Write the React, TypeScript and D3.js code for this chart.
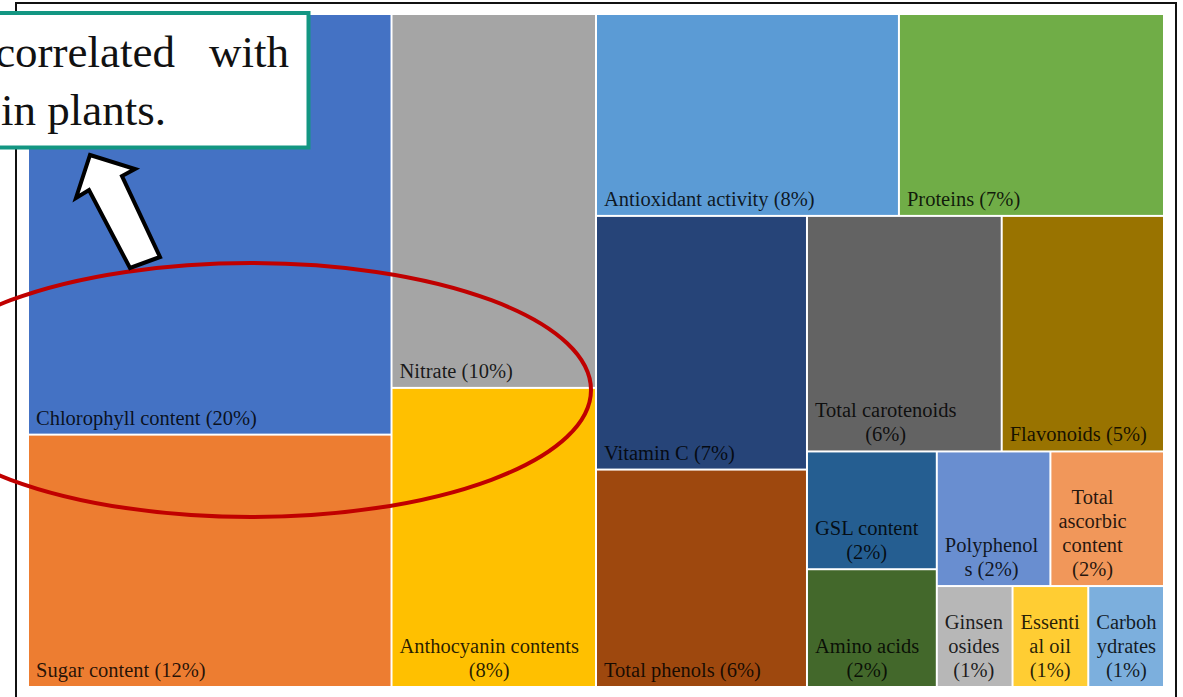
import React, { useRef, useEffect } from "react";
import * as d3 from "d3";

// treemap data (share of studies, %)
const categories = [
  "Chlorophyll content", "Sugar content", "Nitrate", "Anthocyanin contents",
  "Antioxidant activity", "Proteins", "Vitamin C", "Total phenols",
  "Total carotenoids", "Flavonoids", "GSL content", "Amino acids",
  "Polyphenols", "Total ascorbic content", "Ginsenosides", "Essential oil", "Carbohydrates",
];
const shares = [20, 12, 10, 8, 8, 7, 7, 6, 6, 5, 2, 2, 2, 2, 1, 1, 1];
// labels as wrapped in the original figure
const labels = [
  "Chlorophyll content (20%)", "Sugar content (12%)", "Nitrate (10%)", "Anthocyanin contents\n(8%)",
  "Antioxidant activity (8%)", "Proteins (7%)", "Vitamin C (7%)", "Total phenols (6%)",
  "Total carotenoids\n(6%)", "Flavonoids (5%)", "GSL content\n(2%)", "Amino acids\n(2%)",
  "Polyphenol\ns (2%)", "Total\nascorbic\ncontent\n(2%)", "Ginsen\nosides\n(1%)", "Essenti\nal oil\n(1%)", "Carboh\nydrates\n(1%)",
];
const colors = [
  "#4472C4", "#ED7D31", "#A5A5A5", "#FFC000", "#5B9BD5", "#70AD47", "#264478", "#9E480E",
  "#636363", "#997300", "#255E91", "#43682B", "#698ED0", "#F1975A", "#B7B7B7", "#FFCD33", "#7CAFDD",
];

// squarify like d3's but allowing ratio < 1 (closer to Excel's row grouping)
function squarifyTight(ratio: number) {
  return (parent: any, x0: number, y0: number, x1: number, y1: number) => {
    const nodes = parent.children;
    const n = nodes.length;
    let i0 = 0, i1 = 0, value = parent.value;
    while (i0 < n) {
      const dx = x1 - x0, dy = y1 - y0;
      let sumValue;
      do sumValue = nodes[i1++].value; while (!sumValue && i1 < n);
      let minValue = sumValue, maxValue = sumValue;
      const alpha = Math.max(dy / dx, dx / dy) / (value * ratio);
      let beta = sumValue * sumValue * alpha;
      let minRatio = Math.max(maxValue / beta, beta / minValue);
      for (; i1 < n; ++i1) {
        const nv = nodes[i1].value;
        sumValue += nv;
        if (nv < minValue) minValue = nv;
        if (nv > maxValue) maxValue = nv;
        beta = sumValue * sumValue * alpha;
        const newRatio = Math.max(maxValue / beta, beta / minValue);
        if (newRatio > minRatio) { sumValue -= nv; break; }
        minRatio = newRatio;
      }
      const row: any = { value: sumValue, children: nodes.slice(i0, i1) };
      if (dx < dy) d3.treemapDice(row, x0, y0, x1, value ? (y0 += dy * sumValue / value) : y1);
      else d3.treemapSlice(row, x0, y0, value ? (x0 += dx * sumValue / value) : x1, y1);
      value -= sumValue;
      i0 = i1;
    }
  };
}

const App = () => {
  const container = useRef<SVGSVGElement>(null);
  const width = 1183;
  const height = 697;

  useEffect(() => {
    const svg = d3.select(container.current);
    svg.selectAll("*").remove();

    svg.append("rect").attr("width", width).attr("height", height).attr("fill", "white");

    // outer frame
    svg.append("rect")
      .attr("x", 16).attr("y", 3)
      .attr("width", 1160).attr("height", 740)
      .attr("fill", "none").attr("stroke", "#111").attr("stroke-width", 2);

    const data = categories.map((c, i) => ({ name: c, value: shares[i], label: labels[i], color: colors[i] }));
    const root = d3.hierarchy<any>({ name: "root", children: data })
      .sum((d: any) => d.value || 0)
      .sort((a, b) => (b.value as number) - (a.value as number));

    d3.treemap<any>()
      .tile(squarifyTight(0.8) as any)
      .size([1134, 671])
      .paddingInner(2)(root);

    const g = svg.append("g").attr("transform", "translate(29,15)");

    const leaves = root.leaves() as any[];
    g.selectAll("rect.tile")
      .data(leaves)
      .enter()
      .append("rect")
      .attr("class", "tile")
      .attr("x", d => d.x0)
      .attr("y", d => d.y0)
      .attr("width", d => d.x1 - d.x0)
      .attr("height", d => d.y1 - d.y0)
      .attr("fill", d => d.data.color);

    // labels: bottom-left block, lines centered inside the block
    leaves.forEach(d => {
      const lines = d.data.label.split("\n");
      const t = g.append("text")
        .attr("transform", `translate(${d.x0 + 7},${d.y1 - 9})`)
        .style("font-family", "'Liberation Serif', 'Times New Roman', serif")
        .style("font-size", "20.5px")
        .attr("fill", "#000")
        .attr("fill-opacity", 0.85);
      const spans = lines.map((line: string, i: number) =>
        t.append("tspan").attr("y", -(lines.length - 1 - i) * 24).text(line));
      const maxW = d3.max(spans, (s: any) => (s.node() as SVGTSpanElement).getComputedTextLength()) || 0;
      spans.forEach((s: any) => s.attr("x", maxW / 2).attr("text-anchor", "middle"));
    });

    // red ellipse
    svg.append("ellipse")
      .attr("cx", 251).attr("cy", 390)
      .attr("rx", 340).attr("ry", 127)
      .attr("fill", "none").attr("stroke", "#C00000").attr("stroke-width", 4);

    // callout box
    svg.append("rect")
      .attr("x", -10).attr("y", 13)
      .attr("width", 318.5).attr("height", 134.5)
      .attr("fill", "white").attr("stroke", "#139682").attr("stroke-width", 4);

    const callout = svg.append("g")
      .style("font-family", "'Liberation Serif', 'Times New Roman', serif")
      .style("font-size", "45px")
      .attr("fill", "#111");
    callout.append("text").attr("x", 175).attr("y", 67).attr("text-anchor", "end").text("correlated");
    callout.append("text").attr("x", 289).attr("y", 67).attr("text-anchor", "end").text("with");
    callout.append("text").attr("x", 1).attr("y", 125).text("in plants.");

    // block arrow
    const arrow = [[90, 155], [135, 169], [122, 176], [160, 257], [130, 268], [89, 190], [76, 198]];
    svg.append("polygon")
      .attr("points", arrow.map(p => p.join(",")).join(" "))
      .attr("fill", "white").attr("stroke", "black").attr("stroke-width", 4)
      .attr("stroke-linejoin", "miter");
  }, []);

  return (
    <div style={{ position: "absolute", top: 0, left: 0, width: width, height: height }}>
      <svg ref={container} width={width} height={height} style={{ display: "block" }} />
    </div>
  );
};

export default App;
